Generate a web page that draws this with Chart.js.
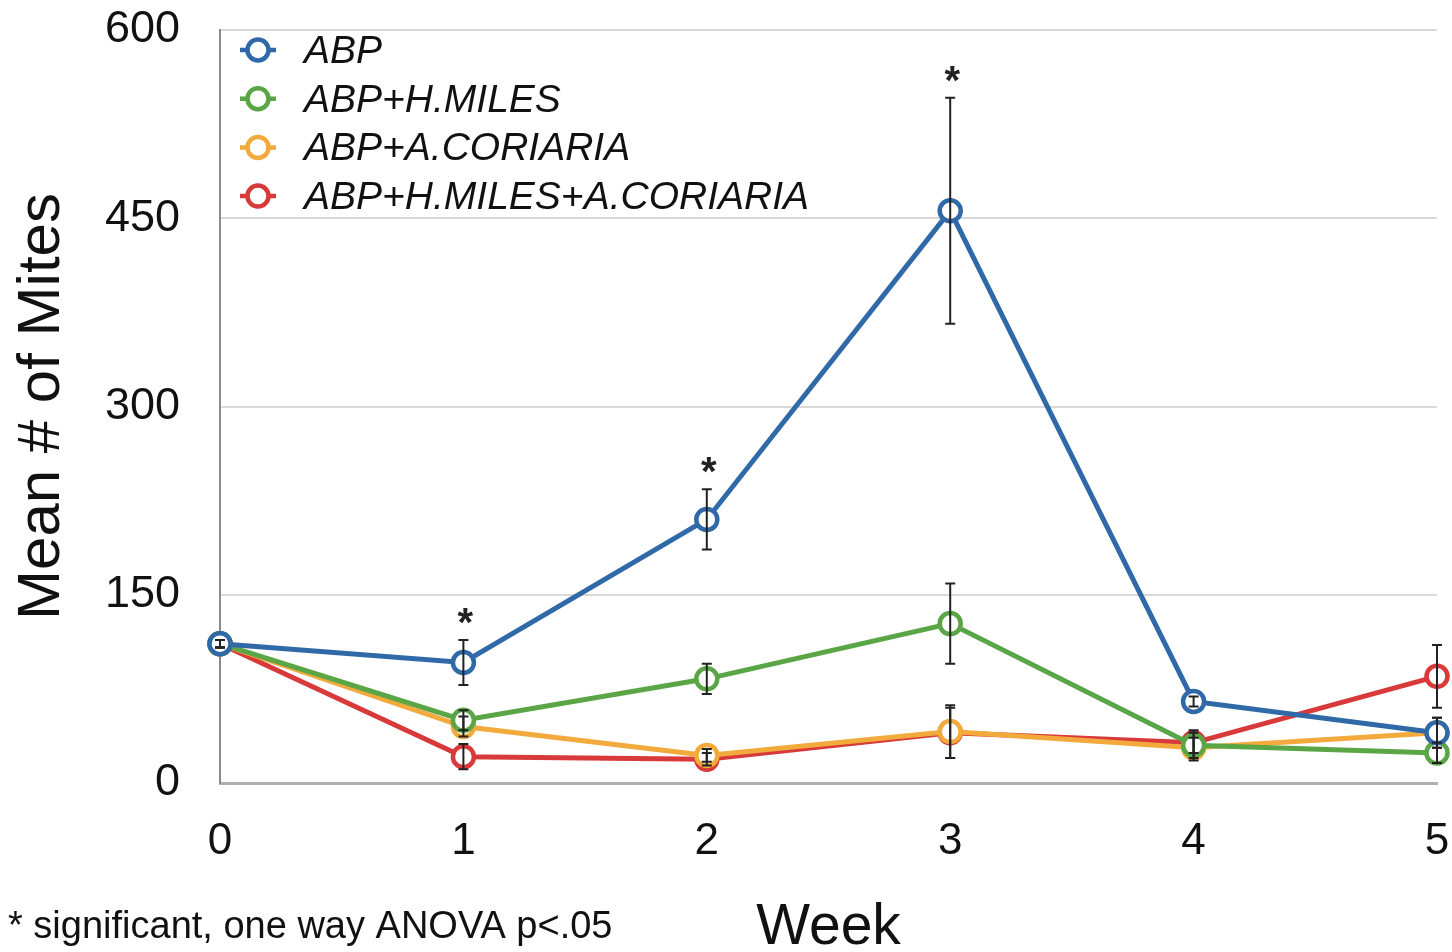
<!DOCTYPE html>
<html><head><meta charset="utf-8">
<script src="https://cdn.jsdelivr.net/npm/chart.js@4.4.0/dist/chart.umd.min.js"></script>
<style>html,body{margin:0;padding:0;background:#fff}#wrap{width:1452px;height:952px}</style>
</head><body><div id="wrap"><canvas id="c" width="1452" height="952"></canvas></div>
<script>
const weeks = [0,1,2,3,4,5];
const seriesNames = ['ABP','ABP+H.MILES','ABP+A.CORIARIA','ABP+H.MILES+A.CORIARIA'];
const abp      = [111, 96, 210, 456, 65, 40];
const abpHm    = [111, 50, 83, 127, 30, 24];
const abpAc    = [111, 45, 22, 41, 28, 40];
const abpHmAc  = [111, 21, 19, 40, 32, 85];
const abpErr     = [3, 18, 24, 90, 4, 12];
const abpHmErr   = [3, 8, 12, 32, 12, 8];
const abpAcErr   = [3, 8, 5, 21, 8, 12];
const abpHmAcErr = [3, 10, 5, 20, 8, 25];
const sigWeeks = [1,2,3];
const yTicks = [0,150,300,450,600];
const colors = ['#2f69a8','#5aa646','#f3aa3c','#d8393b'];
const values = [abp, abpHm, abpAc, abpHmAc];
const errs = [abpErr, abpHmErr, abpAcErr, abpHmAcErr];

const datasets = values.map((v,i)=>({
  label: seriesNames[i],
  data: v.map((y,j)=>({x:weeks[j], y:y})),
  borderColor: colors[i], backgroundColor:'#fff',
  pointBackgroundColor:'#fff', pointBorderColor: colors[i],
  borderWidth: 5, pointRadius: 10.5, pointBorderWidth: 4.5,
  tension: 0, clip: false
}));

const extras = {
  id:'extras',
  afterDatasetsDraw(chart){
    const ctx = chart.ctx, xs = chart.scales.x, ys = chart.scales.y;
    ctx.save();
    ctx.strokeStyle = '#222'; ctx.lineWidth = 2;
    values.forEach((v,i)=>{
      v.forEach((y,j)=>{
        const e = errs[i][j];
        const px = xs.getPixelForValue(weeks[j]);
        const t = ys.getPixelForValue(y+e), b = ys.getPixelForValue(y-e);
        ctx.beginPath();
        ctx.moveTo(px,t); ctx.lineTo(px,b);
        ctx.moveTo(px-5,t); ctx.lineTo(px+5,t);
        ctx.moveTo(px-5,b); ctx.lineTo(px+5,b);
        ctx.stroke();
      });
    });
    // asterisks
    ctx.fillStyle = '#222'; ctx.font = 'bold 40px "Liberation Sans"';
    ctx.textAlign = 'center'; ctx.textBaseline = 'alphabetic';
    sigWeeks.forEach(w=>{
      const px = xs.getPixelForValue(w);
      const py = ys.getPixelForValue(abp[w]+abpErr[w]) - 4;
      ctx.fillText('*', px+2, py);
    });
    // legend
    ctx.textAlign = 'left'; ctx.textBaseline = 'middle';
    ctx.font = 'italic 39px "Liberation Sans"';
    seriesNames.forEach((n,i)=>{
      const cy = 50 + i*48.7, cx = 258;
      ctx.strokeStyle = colors[i]; ctx.lineWidth = 4.5;
      ctx.beginPath(); ctx.moveTo(cx-18,cy); ctx.lineTo(cx+18,cy); ctx.stroke();
      ctx.beginPath(); ctx.arc(cx,cy,10.5,0,Math.PI*2); ctx.fillStyle='#fff'; ctx.fill(); ctx.stroke();
      ctx.fillStyle = '#111';
      ctx.fillText(n, 304, cy+2);
    });
    // footnote
    ctx.font = '38px "Liberation Sans"'; ctx.fillStyle = '#111';
    ctx.textBaseline = 'alphabetic';
    ctx.fillText('* significant, one way ANOVA p<.05', 8, 938);
    ctx.restore();
  }
};

new Chart(document.getElementById('c'), {
  type:'line',
  data:{datasets},
  options:{
    responsive:false, animation:false,
    layout:{padding:{top:30,right:15,left:0,bottom:0}},
    plugins:{legend:{display:false}, tooltip:{enabled:false}},
    scales:{
      x:{type:'linear', min:0, max:5,
        afterFit(s){ s.height = 169; s.paddingLeft = 0; s.paddingRight = 0; s.paddingTop = 0; s.paddingBottom = 0; },
        afterBuildTicks(s){ s.ticks = weeks.map(v=>({value:v})); },
        grid:{display:false, drawTicks:false},
        border:{display:true, color:'#b0b0b0', width:3},
        ticks:{padding:32, color:'#111', font:{family:'Liberation Sans', size:44}},
        title:{display:true, text:'Week', color:'#111', font:{family:'Liberation Sans', size:57}, padding:{top:0,bottom:-10}}
      },
      y:{min:0, max:600,
        afterFit(s){ s.width = 220; s.paddingLeft = 0; s.paddingRight = 0; s.paddingTop = 0; s.paddingBottom = 0; },
        afterBuildTicks(s){ s.ticks = yTicks.map(v=>({value:v})); },
        grid:{color:'#d9d9d9', lineWidth:2, drawTicks:false},
        border:{display:true, color:'#8a8a8a', width:2},
        ticks:{padding:40, color:'#111', font:{family:'Liberation Sans', size:45}},
        title:{display:true, text:'Mean # of Mites', color:'#111', font:{family:'Liberation Sans', size:60}, padding:{top:6,bottom:0}}
      }
    }
  },
  plugins:[extras]
});
</script></body></html>
